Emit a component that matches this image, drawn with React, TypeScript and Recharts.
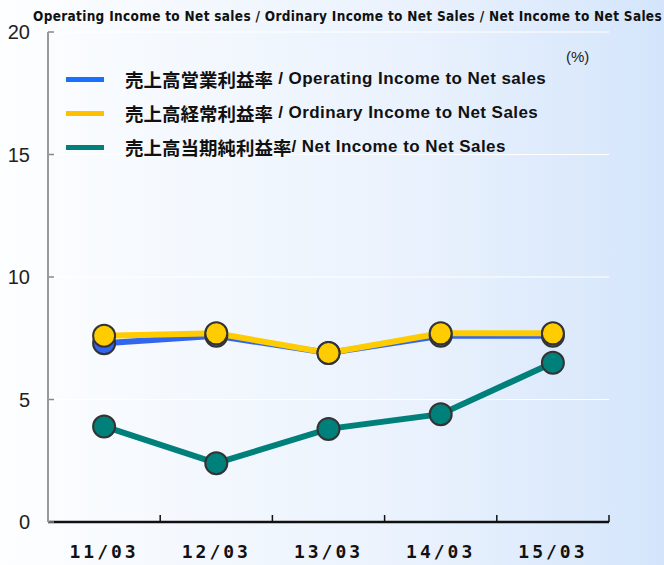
import React from "react";
import { CartesianGrid, Legend, Line, LineChart, XAxis, YAxis } from "recharts";

const periods = ["11/03", "12/03", "13/03", "14/03", "15/03"];
const operatingMargin = [7.3, 7.6, 6.9, 7.6, 7.6];
const ordinaryMargin = [7.6, 7.7, 6.9, 7.7, 7.7];
const netMargin = [3.9, 2.4, 3.8, 4.4, 6.5];
const yTicks = [0, 5, 10, 15, 20];
const bandEdges = [0, 1, 2, 3, 4, 5];

const SERIES = [
  { key: "operating", jp: "売上高営業利益率", en: " / Operating Income to Net sales", color: "#3366ee", swatch: "#1a6fff" },
  { key: "ordinary", jp: "売上高経常利益率", en: " / Ordinary Income to Net Sales", color: "#ffcc00", swatch: "#ffc000" },
  { key: "net", jp: "売上高当期純利益率", en: "/ Net Income to Net Sales", color: "#00807a", swatch: "#00807a" },
];

const data = periods.map((p, i) => ({
  period: p,
  operating: operatingMargin[i],
  ordinary: ordinaryMargin[i],
  net: netMargin[i],
}));

const W = 664;
const H = 565;

function LegendBox() {
  return (
    <div style={{ display: "flex", flexDirection: "column", gap: 12 }}>
      {SERIES.map((s) => (
        <div key={s.key} style={{ display: "flex", alignItems: "center", height: 22 }}>
          <span style={{ display: "inline-block", width: 38, height: 5, background: s.swatch, marginRight: 21 }} />
          <span style={{ fontFamily: "'Noto Sans CJK JP'", fontWeight: 700, fontSize: 18.5, color: "#111" }}>{s.jp}</span>
          <span
            style={{
              fontFamily: "'Liberation Sans', sans-serif",
              fontWeight: 700,
              fontSize: 17,
              letterSpacing: 0.45,
              color: "#111",
              whiteSpace: "pre",
            }}
          >
            {s.en}
          </span>
        </div>
      ))}
    </div>
  );
}

const EmptyTick = () => <g />;

export default function App() {
  const dot = (color: string) => ({ r: 11, fill: color, stroke: "#333", strokeWidth: 2 });
  return (
    <div
      style={{
        position: "absolute",
        left: 0,
        top: 0,
        width: W,
        height: H,
        background: "linear-gradient(to right, #fdfeff 0%, #f5f9fe 25%, #eaf2fd 62%, #d4e5fb 100%)",
        overflow: "hidden",
      }}
    >
      <div
        style={{
          position: "absolute",
          left: 33,
          top: 8,
          fontFamily: "'DejaVu Sans Condensed', sans-serif",
          fontWeight: 700,
          fontSize: 13.5,
          letterSpacing: 0.32,
          color: "#111",
          whiteSpace: "nowrap",
        }}
      >
        Operating Income to Net sales / Ordinary Income to Net Sales / Net Income to Net Sales
      </div>
      <div
        style={{
          position: "absolute",
          left: 566,
          top: 48,
          fontFamily: "'Liberation Sans', sans-serif",
          fontSize: 15,
          color: "#222",
        }}
      >
        (%)
      </div>
      <LineChart width={W} height={H} data={data} margin={{ top: 32, right: 55, left: 0, bottom: 0 }}>
        <CartesianGrid vertical={false} stroke="#ffffff" strokeWidth={1} />
        <XAxis
          xAxisId="edge"
          type="number"
          dataKey="operating"
          domain={[0, 5]}
          ticks={bandEdges}
          interval={0}
          allowDataOverflow
          height={1}
          mirror
          tick={EmptyTick}
          tickSize={7}
          axisLine={false}
          tickLine={{ stroke: "#111", strokeWidth: 1.5 }}
        />
        <XAxis
          xAxisId="cat"
          dataKey="period"
          scale="band"
          height={43}
          axisLine={{ stroke: "#111", strokeWidth: 2.5 }}
          tickLine={false}
          tickMargin={17}
          tick={{ fontFamily: "'DejaVu Sans Mono', monospace", fontWeight: 700, fontSize: 18, fill: "#111", letterSpacing: 3 }}
        />
        <YAxis
          yAxisId="marks"
          type="number"
          dataKey="operating"
          domain={[0, 20]}
          ticks={yTicks}
          interval={0}
          allowDataOverflow
          width={1}
          mirror
          tick={EmptyTick}
          tickSize={6}
          axisLine={false}
          tickLine={{ stroke: "#888", strokeWidth: 1.5 }}
        />
        <YAxis
          width={48}
          domain={[0, 20]}
          ticks={yTicks}
          interval={0}
          tickLine={false}
          tickMargin={12}
          axisLine={{ stroke: "#999", strokeWidth: 2 }}
          tick={{ fontFamily: "'Liberation Sans', sans-serif", fontSize: 20, fill: "#222" }}
        />
        <Legend
          layout="vertical"
          verticalAlign="middle"
          align="center"
          wrapperStyle={{ left: 66, top: 68, width: "auto" }}
          content={() => <LegendBox />}
        />
        {SERIES.map((s) => (
          <Line
            key={s.key}
            xAxisId="cat"
            dataKey={s.key}
            stroke={s.color}
            strokeWidth={6}
            dot={dot(s.color)}
            activeDot={false}
            isAnimationActive={false}
          />
        ))}
      </LineChart>
    </div>
  );
}
